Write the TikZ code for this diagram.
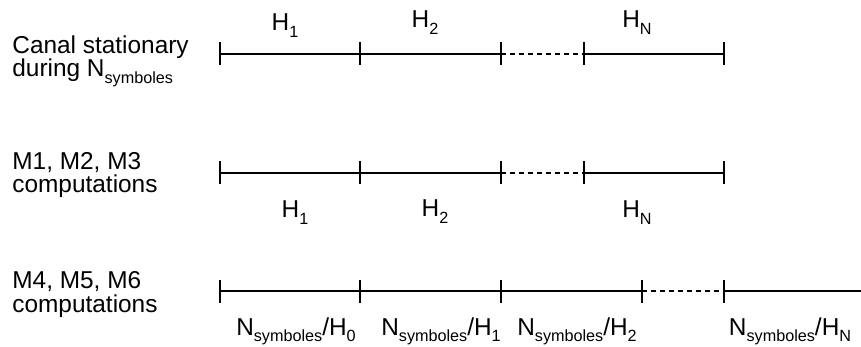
\documentclass[tikz,border=0pt]{standalone}
\usepackage{fontspec}
\setmainfont{Liberation Sans}
\newcommand\rowfont{\fontsize{12.2}{11.7}\selectfont}
\newcommand\lo[1]{\raisebox{-0.28em}{\fontsize{8.1}{8.1}\selectfont #1}}
\newcommand\Nsym{N\lo{symboles}}

\begin{document}
\begin{tikzpicture}[x=0.5pt,y=-0.5pt,
  seg/.style={line width=0.9pt},
  gap/.style={line width=0.9pt,dash pattern=on 2.5pt off 2pt},
  rowlabel/.style={anchor=base west,align=left,inner sep=0pt,font=\rowfont},
  hlabel/.style={anchor=base,inner sep=0pt,font=\rowfont}]
  \useasboundingbox (0,0) rectangle (861,347);
  % tick positions of the three rows
  \foreach \n/\x in {a/220,b/360,c/501,d/584,e/724}{
    \coordinate (r1\n) at (\x,54);
    \coordinate (r2\n) at (\x,173);
    \draw[seg] (r1\n) ++(0,-11.5) -- ++(0,23);
    \draw[seg] (r2\n) ++(0,-11.5) -- ++(0,23);
  }
  \foreach \n/\x in {a/220,b/360,c/501,d/642,e/724}{
    \coordinate (r3\n) at (\x,291);
    \draw[seg] (r3\n) ++(0,-11.5) -- ++(0,23);
  }
  \coordinate (r3end) at (861,291);
  % row 1: stationary channel
  \draw[seg] (r1a) -- (r1b) -- (r1c);
  \draw[gap] (r1c) -- (r1d);
  \draw[seg] (r1d) -- (r1e);
  % row 2: M1, M2, M3
  \draw[seg] (r2a) -- (r2b) -- (r2c);
  \draw[gap] (r2c) -- (r2d);
  \draw[seg] (r2d) -- (r2e);
  % row 3: M4, M5, M6
  \draw[seg] (r3a) -- (r3b) -- (r3c) -- (r3d);
  \draw[gap] (r3d) -- (r3e);
  \draw[seg] (r3e) -- (r3end);
  % row labels (anchored on the baseline of their last line)
  \node[rowlabel] (canal) at (12,77) {Canal stationary\\during \Nsym};
  \node[rowlabel] (mone) at (12,193) {M1, M2, M3\\computations};
  \node[rowlabel] (mfour) at (12,312) {M4, M5, M6\\computations};
  % segment labels
  \node[hlabel] (hone) at (285,31) {H\lo{1}};
  \node[hlabel] (htwo) at (425,28) {H\lo{2}};
  \node[hlabel] (hn) at (637,28) {H\lo{N}};
  \node[hlabel] (hbone) at (295,218) {H\lo{1}};
  \node[hlabel] (hbtwo) at (435,217) {H\lo{2}};
  \node[hlabel] (hbn) at (637,218) {H\lo{N}};
  \node[hlabel] (nzero) at (296,335) {\Nsym/H\lo{0}};
  \node[hlabel] (nfirst) at (441,335) {\Nsym/H\lo{1}};
  \node[hlabel] (nsecond) at (577,335) {\Nsym/H\lo{2}};
  \node[hlabel] (nlast) at (790,335) {\Nsym/H\lo{N}};
\end{tikzpicture}
\end{document}
